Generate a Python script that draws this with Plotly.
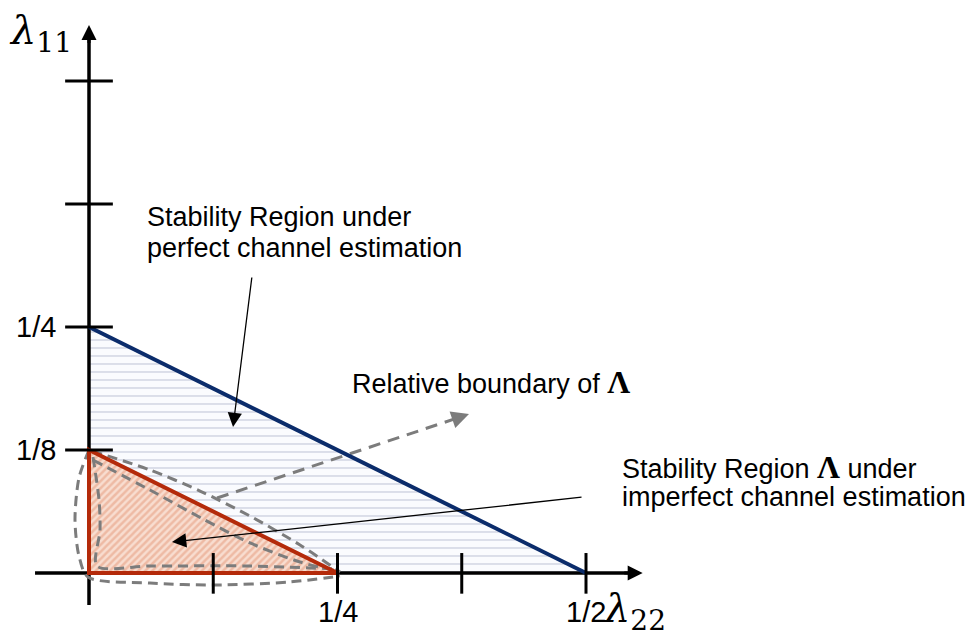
import plotly.graph_objects as go

# ---------------- data (in axis units) ----------------
perfect_x = [0, 0, 0.5]
perfect_y = [0, 0.25, 0]
imperfect_x = [0, 0, 0.25]
imperfect_y = [0, 0.125, 0]

tick_vals = [0.125, 0.25, 0.375, 0.5]
x_label_vals = [0.25, 0.5]
x_label_text = ["1/4", "1/2"]
y_label_vals = [0.125, 0.25]
y_label_text = ["1/8", "1/4"]

# relative boundary curves (dashed)
outer_x = [0, -0.0101, -0.0141, -0.0101, -0.001, 0.0614, 0.1258, 0.2022, 0.2525]
outer_y = [0.125, 0.0965, 0.0539, 0.0173, -0.0041, -0.0102, -0.0122, -0.0091, -0.003]
upper_x = [0.003, 0.0614, 0.1117, 0.162, 0.2123, 0.2525]
upper_y = [0.124, 0.1047, 0.0833, 0.0579, 0.0285, 0.001]
inner_x = [0.004, 0.0101, 0.0111, 0.008, 0.0614, 0.162, 0.2495]
inner_y = [0.1179, 0.0742, 0.0437, 0.0071, 0.0071, 0.0071, 0.0041]
innerhyp_x = [0.004, 0.0614, 0.1147, 0.162, 0.2123, 0.2495]
innerhyp_y = [0.1148, 0.0843, 0.0549, 0.0305, 0.0112, 0.002]

# dashed pointer (relative boundary)
dash_arrow_x = [0.1288, 0.3735]
dash_arrow_y = [0.0762, 0.1585]
dash_tip = (0.3823, 0.1616)

# black pointers: (start_x, start_y, tip_x, tip_y)
arrow_perfect = (0.164, 0.3018, 0.1449, 0.1484)
arrow_imperfect = (0.497, 0.0772, 0.0835, 0.0315)

axis_end = 0.557
x_axis_start = -0.0543
y_axis_start = -0.0325

GRAY = "#7c7c7c"
BLUE = "#0b2c6b"
RED = "#b42a0a"
SANS = "Liberation Sans, Arial, sans-serif"
SERIF = "DejaVu Serif, Liberation Serif, serif"

fig = go.Figure()

# perfect-estimation region (horizontal dashed hatch)
fig.add_trace(go.Scatter(
    x=perfect_x + [perfect_x[0]], y=perfect_y + [perfect_y[0]],
    mode="lines", line=dict(width=0), fill="toself",
    fillcolor="rgba(0,0,0,0)",
    fillpattern=dict(shape="-", fgcolor="#aeb3cc", bgcolor="#fafbfe",
                     size=8, solidity=0.2),
    hoverinfo="skip", showlegend=False))

# imperfect-estimation region (diagonal hatch)
fig.add_trace(go.Scatter(
    x=imperfect_x + [imperfect_x[0]], y=imperfect_y + [imperfect_y[0]],
    mode="lines", line=dict(width=0), fill="toself",
    fillcolor="rgba(0,0,0,0)",
    fillpattern=dict(shape="/", fgcolor="#e39878", bgcolor="#f8ddd0",
                     size=5, solidity=0.5),
    hoverinfo="skip", showlegend=False))

# axes (drawn beneath the region boundaries)
fig.add_trace(go.Scatter(x=[x_axis_start, axis_end - 0.01], y=[0, 0], mode="lines",
                         line=dict(color="black", width=3.5), hoverinfo="skip", showlegend=False))
fig.add_trace(go.Scatter(x=[0, 0], y=[y_axis_start, axis_end - 0.01], mode="lines",
                         line=dict(color="black", width=3.5), hoverinfo="skip", showlegend=False))

# dashed relative-boundary curves
for cx, cy in [(outer_x, outer_y), (upper_x, upper_y),
               (inner_x, inner_y), (innerhyp_x, innerhyp_y)]:
    fig.add_trace(go.Scatter(
        x=cx, y=cy, mode="lines",
        line=dict(color=GRAY, width=3, dash="10px,6px", shape="spline", smoothing=0.8),
        hoverinfo="skip", showlegend=False))

# dashed pointer line
fig.add_trace(go.Scatter(
    x=dash_arrow_x, y=dash_arrow_y, mode="lines",
    line=dict(color=GRAY, width=3, dash="12px,8px"),
    hoverinfo="skip", showlegend=False))

# boundary lines
fig.add_trace(go.Scatter(
    x=[perfect_x[1], perfect_x[2]], y=[perfect_y[1], perfect_y[2]], mode="lines",
    line=dict(color=BLUE, width=4), hoverinfo="skip", showlegend=False))
fig.add_trace(go.Scatter(
    x=[imperfect_x[2], imperfect_x[0], imperfect_x[1], imperfect_x[2]],
    y=[imperfect_y[2], imperfect_y[0], imperfect_y[1], imperfect_y[2]],
    mode="lines", line=dict(color=RED, width=4), hoverinfo="skip", showlegend=False))

shapes = []
for v in tick_vals:
    shapes.append(dict(type="line", xref="x", yref="y", x0=v, x1=v, y0=-0.021, y1=0.0203,
                       line=dict(color="black", width=3), layer="above"))
    shapes.append(dict(type="line", xref="x", yref="y", x0=-0.024, x1=0.024, y0=v, y1=v,
                       line=dict(color="black", width=3), layer="above"))

annotations = []
# axis arrowheads
annotations.append(dict(x=axis_end, y=0, ax=axis_end - 0.02, ay=0, xref="x", yref="y",
                        axref="x", ayref="y", text="", showarrow=True, arrowhead=2,
                        arrowsize=1.0, arrowwidth=3, arrowcolor="black"))
annotations.append(dict(x=0, y=axis_end, ax=0, ay=axis_end - 0.02, xref="x", yref="y",
                        axref="x", ayref="y", text="", showarrow=True, arrowhead=2,
                        arrowsize=1.0, arrowwidth=3, arrowcolor="black"))
# dashed pointer head
annotations.append(dict(x=dash_tip[0], y=dash_tip[1], ax=dash_arrow_x[1] - 0.005,
                        ay=dash_arrow_y[1] - 0.0017, xref="x", yref="y", axref="x", ayref="y",
                        text="", showarrow=True, arrowhead=2, arrowsize=1.4, arrowwidth=2.5,
                        arrowcolor=GRAY))
# black pointers
for (sx, sy, tx, ty) in [arrow_perfect, arrow_imperfect]:
    annotations.append(dict(x=tx, y=ty, ax=sx, ay=sy, xref="x", yref="y", axref="x",
                            ayref="y", text="", showarrow=True, arrowhead=2, arrowsize=2.2,
                            arrowwidth=1.3, arrowcolor="black"))

# tick labels
for v, t in zip(x_label_vals, x_label_text):
    annotations.append(dict(x=v, y=-0.0396, xref="x", yref="y", text=t, showarrow=False,
                            font=dict(family=SANS, size=29, color="black")))
for v, t in zip(y_label_vals, y_label_text):
    annotations.append(dict(x=-0.031, y=v, xref="x", yref="y", text=t, showarrow=False,
                            xanchor="right", font=dict(family=SANS, size=29, color="black")))

# axis titles
annotations.append(dict(x=-0.049, y=0.549, xref="x", yref="y",
                        text="<i>λ</i><sub>11</sub>", showarrow=False,
                        font=dict(family=SERIF, size=40, color="black")))
annotations.append(dict(x=0.549, y=-0.0385, xref="x", yref="y",
                        text="<i>λ</i><sub>22</sub>", showarrow=False,
                        font=dict(family=SERIF, size=40, color="black")))

# text labels
LAM = "<span style='font-family:Liberation Serif, DejaVu Serif, serif;font-size:32px'><b>Λ</b></span>"
text_lines = [
    (0.0563, 0.362, "Stability Region under"),
    (0.0563, 0.330, "perfect channel estimation"),
    (0.2625, 0.194, "Relative boundary of " + LAM),
    (0.5342, 0.1075, "Stability Region " + LAM + " under"),
    (0.5342, 0.077, "imperfect channel estimation"),
]
for tx, ty, t in text_lines:
    annotations.append(dict(x=tx, y=ty, xref="x", yref="y", xanchor="left",
                            align="left", showarrow=False, text=t,
                            font=dict(family=SANS, size=27, color="black")))

# page body has an 8px margin -> figure is 8px shorter/narrower, ranges shifted to match
fig.update_layout(
    width=970, height=628,
    margin=dict(l=0, r=0, t=0, b=0),
    paper_bgcolor="white", plot_bgcolor="white",
    xaxis=dict(range=[-0.08149, 0.89437], visible=False, fixedrange=True),
    yaxis=dict(range=[-0.06402, 0.57419], visible=False, fixedrange=True),
    shapes=shapes, annotations=annotations, showlegend=False,
)

fig.write_html("out.html")
